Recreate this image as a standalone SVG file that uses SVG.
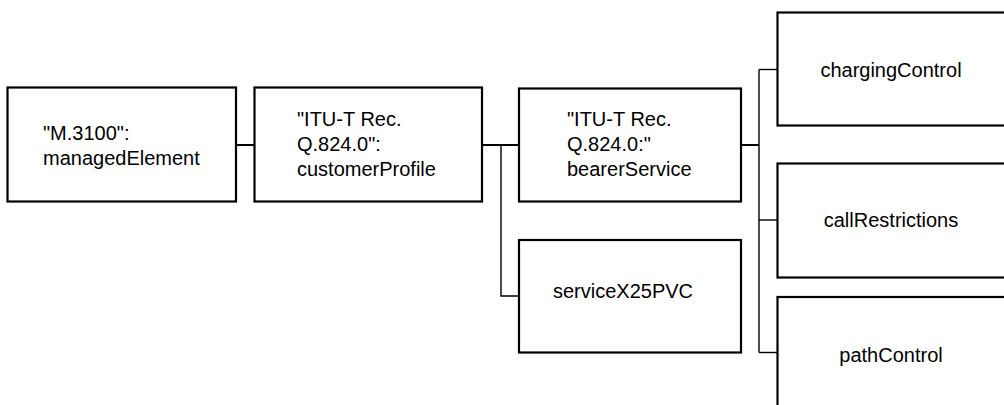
<svg xmlns="http://www.w3.org/2000/svg" width="1004" height="405" viewBox="0 0 1004 405">
<style>
.box{fill:#fff;stroke:#000;stroke-width:2.2}
.t{font-family:"Liberation Sans",Arial,sans-serif;font-size:20px;fill:#000}
.c{text-anchor:middle}
.main{stroke:#000;stroke-width:2;fill:none}
.br{stroke:#000;stroke-width:1.4;fill:none}
</style>
<rect width="1004" height="405" fill="#fff"/>
<g id="connectors">
<line class="main" x1="236" y1="145" x2="254" y2="145"/>
<line class="main" x1="482" y1="145" x2="519" y2="145"/>
<polyline class="br" points="501,145 501,296 519,296"/>
<line class="main" x1="741" y1="145" x2="759" y2="145"/>
<line class="br" x1="759" y1="69.5" x2="759" y2="352.5"/>
<line class="br" x1="759" y1="69.5" x2="777" y2="69.5"/>
<line class="br" x1="759" y1="220" x2="777" y2="220"/>
<line class="br" x1="759" y1="352.5" x2="777" y2="352.5"/>
</g>
<g id="managedElement">
<rect class="box" x="7.5" y="87.5" width="228.5" height="114"/>
<text class="t" x="43" y="139.5">"M.3100":</text>
<text class="t" x="43" y="164.5">managedElement</text>
</g>
<g id="customerProfile">
<rect class="box" x="254.5" y="87.5" width="227.5" height="114"/>
<text class="t" x="297" y="125.5">"ITU-T Rec.</text>
<text class="t" x="297" y="150.5">Q.824.0":</text>
<text class="t" x="297" y="176">customerProfile</text>
</g>
<g id="bearerService">
<rect class="box" x="519" y="88.5" width="222" height="113"/>
<text class="t" x="567" y="125.5">"ITU-T Rec.</text>
<text class="t" x="567" y="150.5">Q.824.0:"</text>
<text class="t" x="567" y="176">bearerService</text>
</g>
<g id="serviceX25PVC">
<rect class="box" x="519" y="240" width="222" height="112.5"/>
<text class="t" x="553" y="298">serviceX25PVC</text>
</g>
<g id="chargingControl">
<rect class="box" x="777.5" y="12.5" width="228" height="113"/>
<text class="t c" x="891" y="76.5">chargingControl</text>
</g>
<g id="callRestrictions">
<rect class="box" x="777.5" y="163.5" width="228" height="114"/>
<text class="t c" x="891" y="226.5">callRestrictions</text>
</g>
<g id="pathControl">
<rect class="box" x="777.5" y="297" width="228" height="114"/>
<text class="t c" x="891" y="361.5">pathControl</text>
</g>
</svg>
